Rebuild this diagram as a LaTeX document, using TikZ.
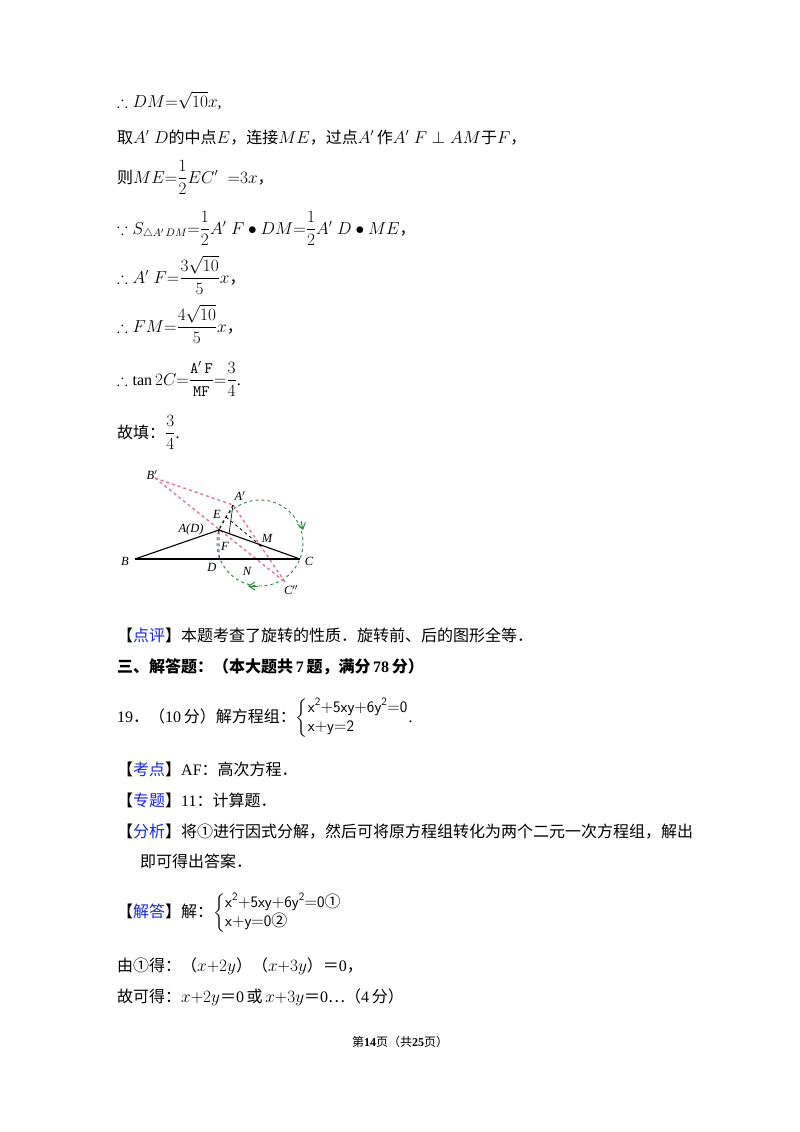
\documentclass[tikz,border=0pt]{standalone}
\usepackage{amsmath,amssymb}
\usepackage{fontspec}
\setmainfont{Liberation Serif}
\newfontfamily\cjk{Noto Sans CJK SC}
\usetikzlibrary{arrows.meta}
\definecolor{kblue}{RGB}{20,40,230}
\definecolor{pinkd}{RGB}{225,120,145}
\definecolor{gd}{RGB}{40,140,50}
\newcommand{\C}[1]{{\cjk #1}}
\newcommand{\tg}[1]{{\cjk 【\textcolor{kblue}{#1}】}}
\begin{document}
\begin{tikzpicture}[x=1pt,y=-1pt,
 t/.style={anchor=base west,inner sep=0pt,font=\fontsize{16}{19}\selectfont},
 lab/.style={font=\itshape\fontsize{12.5}{13}\selectfont,inner sep=0pt},
 pk/.style={pinkd,dashed,line width=1.4pt},
 bk/.style={black,line width=1.1pt}]
\useasboundingbox (0,0) rectangle (800,1132);
\fill[white] (0,0) rectangle (800,1132);
\node[t] (l1) at (117,107) {$\therefore DM{=}\sqrt{10}x$,};
\node[t] (l2) at (117,143) {\C{取}$A'\;D$\C{的中点}$E$\C{，连接}$ME$\C{，过点}$A'$\,\C{作}$A'\;F\perp AM$\C{于}$F$\C{，}};
\node[t] (l3) at (117,183) {\C{则}$ME{=}\dfrac{1}{2}EC'\;\;{=}3x$\C{，}};
\node[t] (l4) at (117,234) {$\because S_{\triangle A'\,DM}{=}\dfrac12 A'\;F\bullet DM{=}\dfrac12 A'\;D\bullet ME$\C{，}};
\node[t] (l5) at (117,283) {$\therefore A'\;F{=}\dfrac{3\sqrt{10}}{5}x$\C{，}};
\node[t] (l6) at (117,332) {$\therefore FM{=}\dfrac{4\sqrt{10}}{5}x$\C{，}};
\node[t] (l7) at (117,385) {$\therefore \tan 2C{=}\dfrac{\mathtt{A'\,F}}{\mathtt{MF}}{=}\dfrac34$.};
\node[t] (l8) at (117,438) {\C{故填：}$\dfrac34$.};
% figure
\coordinate (Bp) at (155,478);
\coordinate (Ap) at (233,505);
\coordinate (A) at (219,530);
\coordinate (E) at (226,517);
\coordinate (F) at (229,534);
\coordinate (M) at (260,545);
\coordinate (B) at (135,559);
\coordinate (C) at (300,559);
\coordinate (D) at (219,559);
\coordinate (Cp) at (285,582);
\draw[gd,dashed,line width=0.9pt] (260,543) circle (43);
\draw[gd,line width=1pt,-{Straight Barb[length=6pt,width=8pt]}] (301,521) -- (303,530);
\draw[gd,line width=1pt,-{Straight Barb[length=6pt,width=8pt]}] (258,586) -- (248,586);
\draw[pk] (Bp) -- (Ap);
\draw[pk] (Bp) -- (Cp);
\draw[pk] (Ap) -- (Cp);
\draw[bk] (B) -- (C);
\draw[bk] (B) -- (A) -- (C);
\draw[dashed,line width=0.8pt] (Ap) -- (A) -- (D);
\draw[dashed,line width=0.8pt] (E) -- (M);
\draw[line width=0.6pt] (Ap) -- (F);
\fill (A) circle (1.4); \fill (M) circle (1.4);
\node[lab] at (152,475) {B$'$};
\node[lab] at (240,496) {A$'$};
\node[lab] at (217,514) {E};
\node[lab] at (191,529) {A(D)};
\node[lab] at (225,546) {F};
\node[lab] at (267,538) {M};
\node[lab] at (125,561) {B};
\node[lab] at (309,561) {C};
\node[lab] at (212,567) {D};
\node[lab] at (247,571) {N};
\node[lab] at (291,590) {C$''$};
% texts
\node[t] (l9) at (117,641) {\tg{点评}\C{本题考查了旋转的性质．旋转前、后的图形全等．}};
\node[t] (l10) at (117,672) {\cjk\bfseries 三、解答题：（本大题共\,\textrm{7}\,题，满分\,\textrm{78}\,分）};
\node[t] (l11) at (117,722) {19\C{．（}10\,\C{分）解方程组：}$\left\{\begin{array}{@{}l@{}}\mathsf{x^2{+}5xy{+}6y^2{=}0}\\ \mathsf{x{+}y{=}2}\end{array}\right.$.};
\node[t] (l12) at (117,775) {\tg{考点}AF\C{：高次方程．}};
\node[t] (l13) at (117,806) {\tg{专题}11\C{：计算题．}};
\node[t] (l14) at (117,837) {\tg{分析}\C{将①进行因式分解，然后可将原方程组转化为两个二元一次方程组，解出}};
\node[t] (l15) at (140,867) {\C{即可得出答案．}};
\node[t] (l16) at (117,917) {\tg{解答}\C{解：}$\left\{\begin{array}{@{}l@{}}\mathsf{x^2{+}5xy{+}6y^2{=}0}\text{\cjk ①}\\ \mathsf{x{+}y{=}0}\text{\cjk ②}\end{array}\right.$};
\node[t] (l17) at (117,971) {\C{由①得：（}$x{+}2y$\C{）（}$x{+}3y$\C{）＝}0\C{，}};
\node[t] (l18) at (117,1002) {\C{故可得：}$x{+}2y$\C{＝}0\,\C{或}\,$x{+}3y$\C{＝}0\C{…（}4\,\C{分）}};
\node[anchor=base,inner sep=0pt,font=\fontsize{12}{14}\selectfont] (ft) at (400,1046) {\C{第}\textbf{14}\C{页（共}\textbf{25}\C{页）}};
\end{tikzpicture}
\end{document}
